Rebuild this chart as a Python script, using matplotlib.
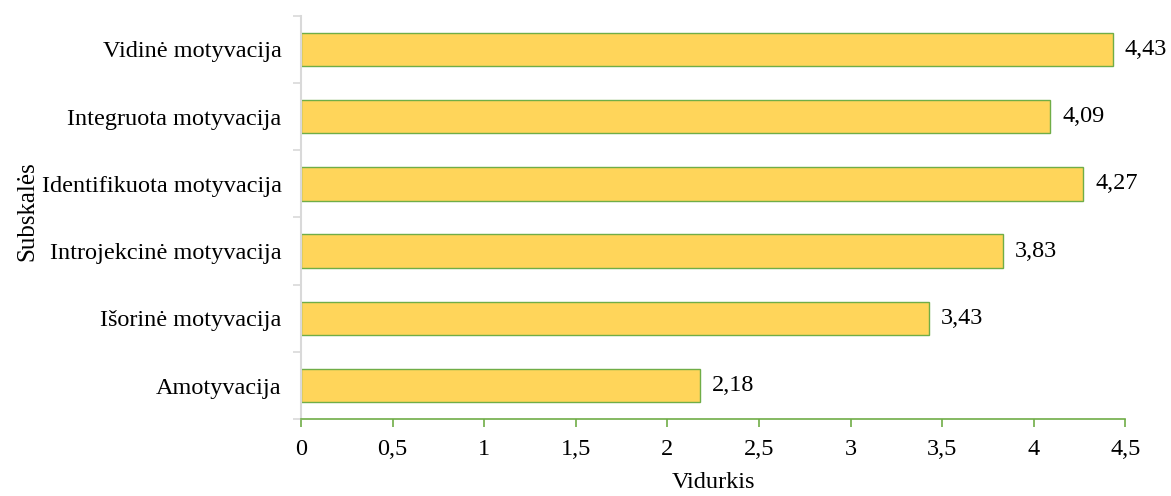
import matplotlib.pyplot as plt
from matplotlib.ticker import FixedLocator, FuncFormatter

categories = ['Amotyvacija', 'Išorinė motyvacija', 'Introjekcinė motyvacija',
              'Identifikuota motyvacija', 'Integruota motyvacija', 'Vidinė motyvacija']
means = [2.18, 3.43, 3.83, 4.27, 4.09, 4.43]
xticks = [0, 0.5, 1, 1.5, 2, 2.5, 3, 3.5, 4, 4.5]

plt.rcParams['font.family'] = ['Liberation Serif', 'DejaVu Serif']
plt.rcParams['font.size'] = 17.5

fig = plt.figure(figsize=(11.71, 4.96), dpi=100)
ax = fig.add_axes([0.257, 0.155, 0.704, 0.813])

pos = list(range(len(categories)))
ax.barh(pos, means, height=0.5, color='#FFD55A', edgecolor='#70AD47', linewidth=1)

# value labels, decimal comma
for p, v in zip(pos, means):
    ax.text(v + 0.065, p, '{:.2f}'.format(v).replace('.', ','), va='center', ha='left')

ax.set_xlim(0, 4.5)
ax.set_ylim(-0.5, 5.5)
ax.set_xticks(xticks)
ax.xaxis.set_major_formatter(FuncFormatter(lambda x, _: ('%g' % x).replace('.', ',')))
ax.set_yticks(pos)
ax.set_yticklabels(categories)
ax.yaxis.set_minor_locator(FixedLocator([i + 0.5 for i in range(-1, 6)]))

for s in ['top', 'right']:
    ax.spines[s].set_visible(False)
ax.spines['left'].set_color('#D9D9D9')
ax.spines['left'].set_linewidth(1.5)
ax.spines['bottom'].set_color('#70AD47')
ax.spines['bottom'].set_linewidth(1.2)

ax.tick_params(axis='y', which='major', length=0, pad=14)
ax.tick_params(axis='y', which='minor', length=6, color='#D9D9D9', width=1.2)
ax.tick_params(axis='x', length=6, color='#70AD47', width=1.2, pad=8)

ax.set_xlabel('Vidurkis', fontsize=17.5)
ax.set_ylabel('Subskalės', fontsize=18)
ax.xaxis.set_label_coords(0.5, -0.132)
ax.yaxis.set_label_coords(-0.319, 0.515)

fig.savefig('out.png', dpi=100)
